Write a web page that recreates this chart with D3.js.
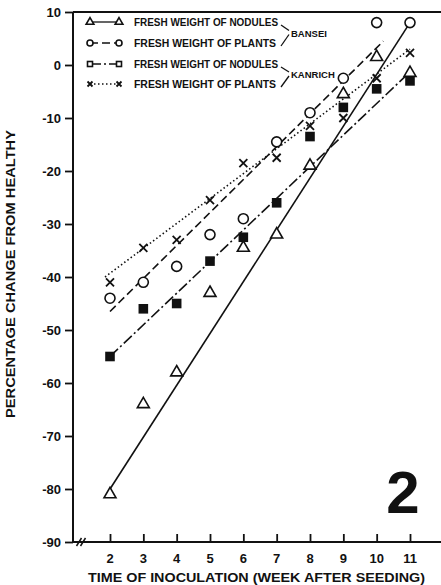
<!DOCTYPE html>
<head>
  <meta charset="utf-8">
  <script src="https://d3js.org/d3.v7.min.js"></script>
  <style>
    body { margin:0; background:#fff; }
    text { font-family: 'Liberation Sans', Arial, sans-serif; font-weight: 700; fill: #111; }
    .axis-line { stroke: #111; stroke-width: 2; fill: none; }
    .y-axis path { display: none; }
    .y-axis line, .x-axis line { stroke: #111; stroke-width: 1.8; }
    .y-axis text, .x-axis text { font-size: 13px; }
    .axis-title { font-size: 12.5px; }
    .fit-line { fill: none; stroke: #111; stroke-width: 1.6; }
    .legend text { font-size: 10px; }
    .legend line, .connector { stroke: #111; stroke-width: 1.3; fill: none; }
    .mark { stroke: #111; stroke-width: 1.6; }
  </style>
</head>

<body>
  <script>
    var margin = {top: 12, right: 0, bottom: 43, left: 73};
    var width = 441 - margin.left - margin.right,
        height = 585 - margin.top - margin.bottom;

    // data (percentage change from healthy)
    var weeks = [2, 3, 4, 5, 6, 7, 8, 9, 10, 11];
    var banseiNodules  = [-81, -64, -58, -43, -34.5, -32, -19, -5.5, 1.5, -1.5];
    var banseiPlants   = [-44, -41, -38, -32, -29, -14.5, -9, -2.5, 8, 8];
    var kanrichNodules = [-55, -46, -45, -37, -32.5, -26, -13.5, -8, -4.5, -3];
    var kanrichPlants  = [-41, -34.5, -33, -25.5, -18.5, -17.5, -11.5, -10, -2.5, 2.3];

    // fitted lines: [start week, end week], [start value, end value]
    var fitBanseiNodules  = {weeks: [2, 11],    values: [-80, 8]};
    var fitBanseiPlants   = {weeks: [2, 10.2],  values: [-46.5, 4.5]};
    var fitKanrichNodules = {weeks: [2, 11],    values: [-55, -1.3]};
    var fitKanrichPlants  = {weeks: [1.85, 11], values: [-40, 3]};

    var yTicks = [10, 0, -10, -20, -30, -40, -50, -60, -70, -80, -90];
    var legendLabels = ["FRESH WEIGHT OF NODULES", "FRESH WEIGHT OF PLANTS",
                        "FRESH WEIGHT OF NODULES", "FRESH WEIGHT OF PLANTS"];
    var varieties = ["BANSEI", "KANRICH"];
    var xTitle = "TIME OF INOCULATION (WEEK AFTER SEEDING)";
    var yTitle = "PERCENTAGE CHANGE FROM HEALTHY";
    var figureNo = "2";

    var svg = d3.select("body").append("svg")
        .attr("width", width + margin.left + margin.right)
        .attr("height", height + margin.top + margin.bottom)
      .append("g")
        .attr("transform", "translate(" + margin.left + "," + margin.top + ")");

    var x = d3.scaleLinear().domain([2, 11]).range([37, 337]);
    var y = d3.scaleLinear().domain([-90, 10]).range([height, 0]);

    // marker drawers
    function triangle(g, s) {
      g.append("path").attr("class", "mark")
        .attr("d", d3.symbol().type(d3.symbolTriangle).size(s)())
        .style("fill", "#fff");
    }
    function circle(g, r) {
      g.append("circle").attr("class", "mark").attr("r", r).style("fill", "#fff");
    }
    function square(g, s, filled) {
      g.append("rect").attr("class", "mark")
        .attr("x", -s / 2).attr("y", -s / 2).attr("width", s).attr("height", s)
        .style("fill", filled ? "#111" : "#fff");
    }
    function cross(g, s) {
      g.append("path").attr("class", "mark")
        .attr("d", "M" + [-s, -s] + "L" + [s, s] + "M" + [s, -s] + "L" + [-s, s])
        .style("stroke-width", 1.8);
    }

    var series = [
      {values: banseiNodules,  fit: fitBanseiNodules,  dash: null,           draw: g => triangle(g, 62), legend: g => triangle(g, 26)},
      {values: banseiPlants,   fit: fitBanseiPlants,   dash: "8,4",          draw: g => circle(g, 5),    legend: g => circle(g, 3)},
      {values: kanrichNodules, fit: fitKanrichNodules, dash: "11,3,2,3",     draw: g => square(g, 8, true), legend: g => square(g, 5, false)},
      {values: kanrichPlants,  fit: fitKanrichPlants,  dash: "1.5,2.5",      draw: g => cross(g, 4),     legend: g => cross(g, 2.5)}
    ];

    // frame: left axis line, top border, bottom axis with break
    svg.append("line").attr("class", "axis-line")
      .attr("x1", 0).attr("x2", 0).attr("y1", 0).attr("y2", height);
    svg.append("line").attr("class", "axis-line")
      .attr("x1", 0).attr("x2", width).attr("y1", 0).attr("y2", 0);
    svg.append("line").attr("class", "axis-line")
      .attr("x1", 0).attr("x2", width).attr("y1", height).attr("y2", height);
    [6, 10].forEach(function(bx) {
      svg.append("line").attr("class", "axis-line").style("stroke-width", 1.5)
        .attr("x1", bx - 2.5).attr("x2", bx + 2.5).attr("y1", height + 4).attr("y2", height - 4);
    });

    var yAxis = d3.axisLeft(y)
      .tickValues(yTicks)
      .tickFormat(d => String(d))
      .tickSize(8)
      .tickPadding(4);
    svg.append("g").attr("class", "y-axis").call(yAxis);

    var xAxis = d3.axisTop(x)
      .tickValues(weeks)
      .tickSize(8)
      .tickFormat("");
    svg.append("g").attr("class", "x-axis")
      .attr("transform", "translate(0," + height + ")")
      .call(xAxis)
      .select(".domain").remove();

    svg.append("g").selectAll("text")
      .data(weeks)
      .enter().append("text")
        .attr("class", "x-tick")
        .style("font-size", "13px")
        .attr("text-anchor", "middle")
        .attr("x", d => x(d))
        .attr("y", height + 21)
        .text(d => d);

    svg.append("text")
      .attr("class", "axis-title")
      .attr("x", 15)
      .attr("y", height + 40)
      .attr("textLength", 337)
      .attr("lengthAdjust", "spacingAndGlyphs")
      .text(xTitle);

    svg.append("text")
      .attr("class", "axis-title")
      .attr("text-anchor", "middle")
      .attr("transform", "translate(" + [-58, 262] + ") rotate(-90)")
      .attr("textLength", 288)
      .attr("lengthAdjust", "spacingAndGlyphs")
      .text(yTitle);

    // fitted lines
    var line = d3.line().x(d => x(d[0])).y(d => y(d[1]));
    svg.append("g").selectAll("path")
      .data(series)
      .enter().append("path")
        .attr("class", "fit-line")
        .attr("d", d => line(d3.zip(d.fit.weeks, d.fit.values)))
        .style("stroke-dasharray", d => d.dash);

    // data points
    series.forEach(function(s) {
      svg.append("g").selectAll("g")
        .data(d3.zip(weeks, s.values))
        .enter().append("g")
          .attr("transform", d => "translate(" + x(d[0]) + "," + y(d[1]) + ")")
          .each(function() { s.draw(d3.select(this)); });
    });

    // legend
    var legend = svg.append("g").attr("class", "legend");
    var rowY = [10, 31, 52, 72];
    series.forEach(function(s, i) {
      var row = legend.append("g").attr("transform", "translate(0," + rowY[i] + ")");
      row.append("line")
        .attr("x1", 17).attr("x2", 46).attr("y1", 0).attr("y2", 0)
        .style("stroke-dasharray", s.dash);
      s.legend(row.append("g").attr("transform", "translate(17,0)"));
      s.legend(row.append("g").attr("transform", "translate(46,0)"));
      row.append("text")
        .attr("x", 61).attr("y", 4)
        .attr("textLength", i % 2 ? 142 : 144)
        .attr("lengthAdjust", "spacingAndGlyphs")
        .text(legendLabels[i]);
    });
    varieties.forEach(function(v, i) {
      var top = rowY[i * 2], bottom = rowY[i * 2 + 1];
      var mid = (top + bottom) / 2;
      legend.append("path").attr("class", "connector")
        .attr("d", "M" + [208, top + 3] + "L" + [216, mid - 2]);
      legend.append("path").attr("class", "connector")
        .attr("d", "M" + [208, bottom + 3] + "L" + [216, mid + 2]);
      legend.append("text")
        .attr("x", 218).attr("y", mid + 4)
        .style("font-size", "9.5px")
        .text(v);
    });

    svg.append("text")
      .attr("x", 330)
      .attr("y", 501)
      .attr("text-anchor", "middle")
      .style("font-size", "60px")
      .text(figureNo);
  </script>
</body>
